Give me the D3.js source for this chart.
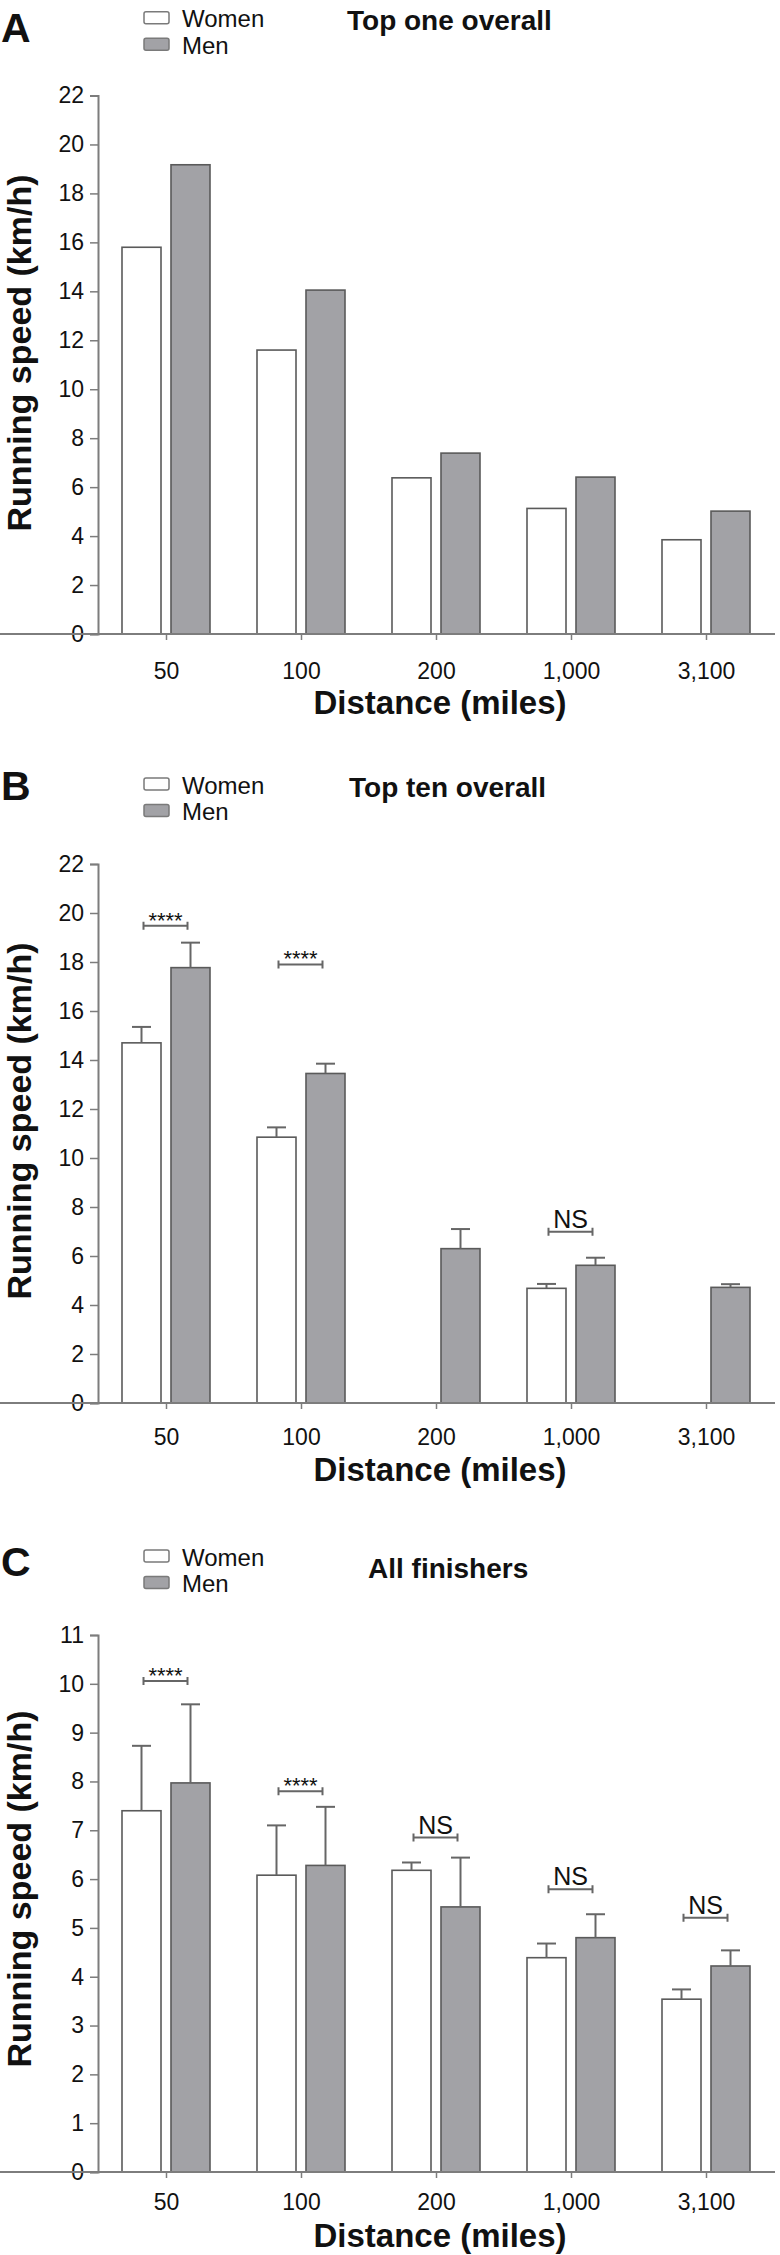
<!DOCTYPE html>
<html><head><meta charset="utf-8">
<script src="https://cdn.jsdelivr.net/npm/d3@7"></script>
<style>
html,body{margin:0;padding:0;background:#fff;}
text{font-family:"Liberation Sans",Arial,sans-serif;fill:#111;}
</style></head>
<body><svg id="chart" width="780" height="2255"></svg>
<script>
// ---------- data ----------
const categories = ["50", "100", "200", "1,000", "3,100"];
const seriesNames = ["Women", "Men"];

// Panel A: top one overall
const womenTop1 = [15.8, 11.6, 6.38, 5.13, 3.85];
const menTop1   = [19.17, 14.05, 7.39, 6.41, 5.02];

// Panel B: top ten overall (mean, SD)
const womenTop10   = [14.7, 10.85, null, 4.68, null];
const womenTop10Sd = [0.65, 0.4, null, 0.18, null];
const menTop10     = [17.77, 13.45, 6.3, 5.62, 4.72];
const menTop10Sd   = [1.02, 0.4, 0.8, 0.31, 0.13];
const sigTop10 = [
  {cat: "50", level: 19.48, label: "****"},
  {cat: "100", level: 17.9, label: "****"},
  {cat: "1,000", level: 6.99, label: "NS"}
];

// Panel C: all finishers (mean, SD)
const womenAll   = [7.40, 6.08, 6.18, 4.39, 3.54];
const womenAllSd = [1.33, 1.02, 0.16, 0.29, 0.20];
const menAll     = [7.97, 6.28, 5.43, 4.80, 4.22];
const menAllSd   = [1.61, 1.20, 1.01, 0.48, 0.32];
const sigAll = [
  {cat: "50", level: 10.06, label: "****"},
  {cat: "100", level: 7.80, label: "****"},
  {cat: "200", level: 6.85, label: "NS"},
  {cat: "1,000", level: 5.79, label: "NS"},
  {cat: "3,100", level: 5.21, label: "NS"}
];

const yTicksA = d3.range(0, 23, 2);
const yTicksB = d3.range(0, 23, 2);
const yTicksC = d3.range(0, 12, 1);

// ---------- layout ----------
const svg = d3.select("#chart");
svg.append("rect").attr("width", 780).attr("height", 2255).attr("fill", "#fff");

const axisColor = "#7d7d7d";
const barStroke = "#5a5a5a";
const menFill = "#a2a2a6";

const panels = [
  {letter: "A", letterY: 42, title: "Top one overall", titleX: 347, titleY: 30, legendY: 11.7,
   y0: 634, y1: 95.5, yMax: 22, ticks: yTicksA, women: womenTop1, men: menTop1,
   womenSd: null, menSd: null, sig: [], xLabY: 679, xTitleY: 714, yTitleC: 353},
  {letter: "B", letterY: 800, title: "Top ten overall", titleX: 349, titleY: 797, legendY: 778,
   y0: 1403, y1: 864, yMax: 22, ticks: yTicksB, women: womenTop10, men: menTop10,
   womenSd: womenTop10Sd, menSd: menTop10Sd, sig: sigTop10, xLabY: 1445, xTitleY: 1481, yTitleC: 1121},
  {letter: "C", letterY: 1576, title: "All finishers", titleX: 368, titleY: 1578, legendY: 1550,
   y0: 2172, y1: 1635, yMax: 11, ticks: yTicksC, women: womenAll, men: menAll,
   womenSd: womenAllSd, menSd: menAllSd, sig: sigAll, xLabY: 2210, xTitleY: 2247, yTitleC: 1889}
];

const x = d3.scaleBand().domain(categories).range([99, 774]).padding(0);
const xs = d3.scaleBand().domain(seriesNames).range([23, 111]).paddingInner(0.204).paddingOuter(0);

panels.forEach(p => {
  const g = svg.append("g");
  const y = d3.scaleLinear().domain([0, p.yMax]).range([p.y0, p.y1]);

  // panel letter
  g.append("text").attr("x", 1).attr("y", p.letterY)
    .attr("font-size", 41).attr("font-weight", "bold").text(p.letter);

  // legend
  seriesNames.forEach((s, i) => {
    const ly = p.legendY + i * 26.5;
    g.append("rect").attr("x", 144).attr("y", ly).attr("width", 25).attr("height", 12)
      .attr("rx", 2).attr("fill", i === 0 ? "#fff" : menFill)
      .attr("stroke", "#7a7a7a").attr("stroke-width", 1.5);
    g.append("text").attr("x", 182).attr("y", ly + 15.5).attr("font-size", 24).text(s);
  });

  // title
  g.append("text").attr("x", p.titleX).attr("y", p.titleY)
    .attr("font-size", 28).attr("font-weight", "bold").text(p.title);

  // y axis
  const yAxis = d3.axisLeft(y).tickValues(p.ticks).tickSize(8).tickPadding(6);
  const ya = g.append("g").attr("transform", "translate(98,0)").call(yAxis);
  ya.select(".domain").attr("stroke", axisColor).attr("stroke-width", 2);
  ya.selectAll(".tick line").attr("stroke", axisColor).attr("stroke-width", 1.5);
  ya.selectAll(".tick text").attr("font-size", 23).attr("fill", "#111")
    .attr("font-family", "Liberation Sans, Arial, sans-serif");

  // bars
  const series = [
    {name: "Women", vals: p.women, sd: p.womenSd, fill: "#fff"},
    {name: "Men", vals: p.men, sd: p.menSd, fill: menFill}
  ];
  series.forEach(s => {
    const data = categories.map((c, i) => ({c, v: s.vals[i], sd: s.sd ? s.sd[i] : null}))
      .filter(d => d.v != null);
    g.selectAll(null).data(data).enter().append("rect")
      .attr("x", d => x(d.c) + xs(s.name))
      .attr("y", d => y(d.v))
      .attr("width", xs.bandwidth())
      .attr("height", d => y(0) - y(d.v))
      .attr("fill", s.fill).attr("stroke", barStroke).attr("stroke-width", 1.6);
    // error bars
    const eb = data.filter(d => d.sd != null);
    const cx = d => x(d.c) + xs(s.name) + xs.bandwidth() / 2;
    g.selectAll(null).data(eb).enter().append("line")
      .attr("x1", cx).attr("x2", cx)
      .attr("y1", d => y(d.v)).attr("y2", d => y(d.v + d.sd))
      .attr("stroke", "#666").attr("stroke-width", 2);
    g.selectAll(null).data(eb).enter().append("line")
      .attr("x1", d => cx(d) - 9.5).attr("x2", d => cx(d) + 9.5)
      .attr("y1", d => y(d.v + d.sd)).attr("y2", d => y(d.v + d.sd))
      .attr("stroke", "#666").attr("stroke-width", 2);
  });

  // x axis (drawn on top of bar bottoms)
  const xAxis = d3.axisBottom(x).tickSize(6).tickSizeOuter(0).tickPadding(0);
  const xa = g.append("g").attr("transform", `translate(0,${p.y0})`).call(xAxis);
  xa.select(".domain").attr("stroke", axisColor).attr("stroke-width", 2)
    .attr("d", "M-7,0H775");
  xa.selectAll(".tick line").attr("stroke", axisColor).attr("stroke-width", 1.5);
  xa.selectAll(".tick text").attr("font-size", 23).attr("fill", "#111")
    .attr("font-family", "Liberation Sans, Arial, sans-serif")
    .attr("dy", null).attr("y", p.xLabY - p.y0);

  // x axis title
  g.append("text").attr("x", 440).attr("y", p.xTitleY).attr("text-anchor", "middle")
    .attr("font-size", 33).attr("font-weight", "bold").text("Distance (miles)");

  // y axis title
  g.append("text").attr("transform", `translate(31,${p.yTitleC}) rotate(-90)`)
    .attr("text-anchor", "middle").attr("font-size", 34).attr("font-weight", "bold")
    .text("Running speed (km/h)");

  // significance brackets
  p.sig.forEach(s => {
    const c = x(s.cat) + x.bandwidth() / 2;
    const xl = c - 23, xr = c + 21, yy = y(s.level);
    g.append("path").attr("d", `M${xl},${yy - 4}V${yy + 4}M${xl},${yy}H${xr}M${xr},${yy - 4}V${yy + 4}`)
      .attr("stroke", "#666").attr("stroke-width", 2).attr("fill", "none");
    const isStar = s.label.startsWith("*");
    g.append("text").attr("x", (xl + xr) / 2).attr("y", isStar ? yy + 2 : yy - 4)
      .attr("text-anchor", "middle").attr("font-size", isStar ? 22 : 25).text(s.label);
  });
});
</script></body></html>
